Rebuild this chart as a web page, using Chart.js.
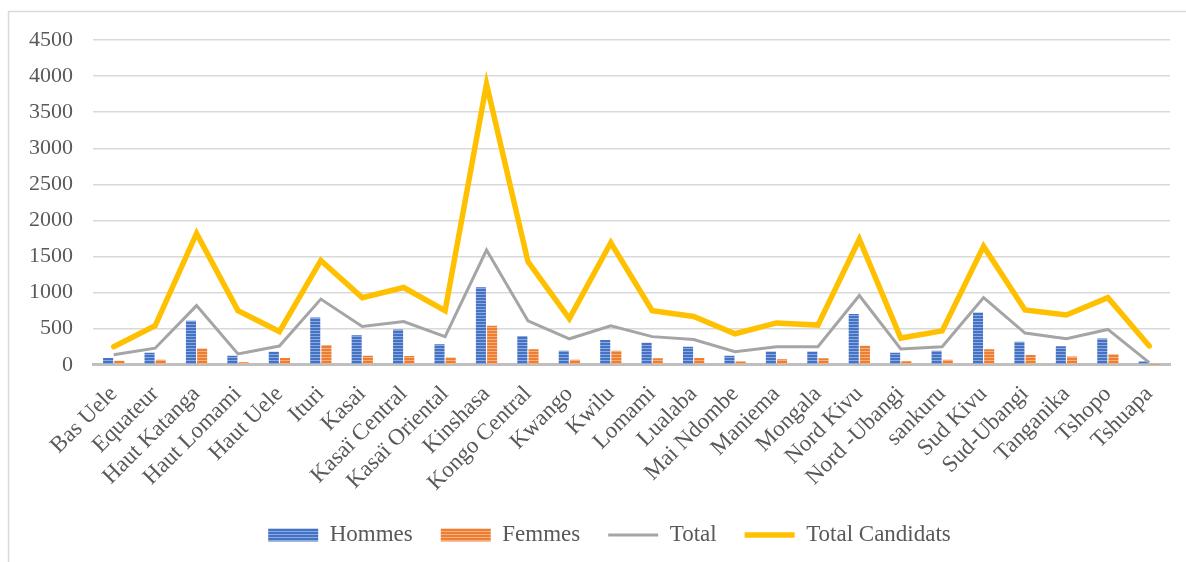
<!DOCTYPE html>
<html>
<head>
<meta charset="utf-8">
<script src="https://cdn.jsdelivr.net/npm/chart.js@4/dist/chart.umd.min.js"></script>
<style>
  html, body {
    margin: 0;
    padding: 0;
    background: #ffffff;
  }

  #wrap {
    width: 1186px;
    height: 562px;
    position: relative;
  }
</style>
</head>
<body>
<div id="wrap">
  <canvas id="candidatsChart"></canvas>
</div>

<script>
// =====================================================
// DATA
// =====================================================

const provinces = [
  "Bas Uele", "Equateur", "Haut Katanga", "Haut Lomami", "Haut Uele",
  "Ituri", "Kasai", "Kasaï Central", "Kasaï Oriental", "Kinshasa",
  "Kongo Central", "Kwango", "Kwilu", "Lomami", "Lualaba",
  "Mai Ndombe", "Maniema", "Mongala", "Nord Kivu", "Nord -Ubangi",
  "sankuru", "Sud Kivu", "Sud-Ubangi", "Tanganika", "Tshopo", "Tshuapa"
];

const hommes = [
  95, 165, 610, 125, 180,
  655, 410, 490, 285, 1075,
  400, 195, 345, 305, 250,
  125, 185, 185, 705, 165,
  195, 725, 320, 255, 365, 45
];

const femmes = [
  55, 70, 225, 35, 95,
  275, 125, 120, 100, 540,
  215, 70, 195, 90, 95,
  45, 75, 90, 265, 50,
  70, 215, 135, 115, 145, 5
];

const totals = [
  140, 230, 820, 150, 260,
  910, 530, 600, 390, 1590,
  610, 360, 540, 390, 350,
  180, 250, 250, 960, 220,
  250, 930, 440, 360, 490, 30
];

const totalCandidats = [
  250, 540, 1820, 750, 460,
  1445, 930, 1070, 750, 3890,
  1430, 640, 1690, 750, 670,
  430, 580, 550, 1740, 370,
  470, 1640, 760, 690, 930, 260
];

const yTicks = [0, 500, 1000, 1500, 2000, 2500, 3000, 3500, 4000, 4500];

// =====================================================
// STYLE
// =====================================================

const FONT = "'Liberation Serif', 'DejaVu Serif', serif";
const TEXT_COLOR = "#595959";

// legend sits closer to the axis labels than chart.js would put it
const LEGEND_SQUEEZE = 17;
const LEGEND_SHIFT_X = 20;

function makeStripes(base, stripe) {

  const c = document.createElement("canvas");
  c.width = 4;
  c.height = 3;

  const ctx = c.getContext("2d");
  ctx.fillStyle = base;
  ctx.fillRect(0, 0, 4, 3);
  ctx.fillStyle = stripe;
  ctx.fillRect(0, 0, 4, 1);

  return ctx.createPattern(c, "repeat");
}

const bluePattern =
  makeStripes("#4472C4", "#8EA9DB");

const orangePattern =
  makeStripes("#ED7D31", "#F4B183");

// frame round the whole chart (left + top only, like the source)
const framePlugin = {

  id: "frame",

  beforeInit(chart) {

    const fit = chart.legend.fit;

    chart.legend.fit = function () {
      fit.call(this);
      this.height -= LEGEND_SQUEEZE;
    };
  },

  afterLayout(chart) {
    chart.legend.top -= LEGEND_SQUEEZE;
    chart.legend.left += LEGEND_SHIFT_X;
    chart.legend.right += LEGEND_SHIFT_X;
  },

  beforeDraw(chart) {

    const ctx = chart.ctx;

    ctx.save();
    ctx.strokeStyle = "#D9D9D9";
    ctx.lineWidth = 1.5;
    ctx.beginPath();
    ctx.moveTo(8.5, chart.height);
    ctx.lineTo(8.5, 11.5);
    ctx.lineTo(chart.width, 11.5);
    ctx.stroke();
    ctx.restore();
  }
};

// =====================================================
// CHART
// =====================================================

const chart = new Chart(
  document.getElementById("candidatsChart"),
  {
    data: {

      labels: provinces,

      datasets: [
        {
          type: "bar",
          label: "Hommes",
          data: hommes,
          backgroundColor: bluePattern,
          categoryPercentage: 0.54,
          barPercentage: 0.9,
          order: 3
        },
        {
          type: "bar",
          label: "Femmes",
          data: femmes,
          backgroundColor: orangePattern,
          categoryPercentage: 0.54,
          barPercentage: 0.9,
          order: 3
        },
        {
          type: "line",
          label: "Total",
          data: totals,
          borderColor: "#A5A5A5",
          backgroundColor: "#A5A5A5",
          borderWidth: 3,
          pointRadius: 0,
          tension: 0,
          borderJoinStyle: "miter",
          order: 2
        },
        {
          type: "line",
          label: "Total Candidats",
          data: totalCandidats,
          borderColor: "#FFC000",
          backgroundColor: "#FFC000",
          borderWidth: 5.5,
          pointRadius: 0,
          tension: 0,
          borderJoinStyle: "miter",
          borderCapStyle: "round",
          order: 1
        }
      ]
    },

    options: {

      responsive: true,

      maintainAspectRatio: false,

      animation: false,

      layout: {
        padding: {
          left: 9,
          right: 16,
          top: 40,
          bottom: 5.5
        }
      },

      scales: {

        x: {

          grid: {
            display: false,
            drawTicks: false
          },

          border: {
            display: true,
            color: "#BFBFBF",
            width: 3
          },

          ticks: {
            color: TEXT_COLOR,
            font: {
              family: FONT,
              size: 23
            },
            maxRotation: 45,
            minRotation: 45,
            autoSkip: false,
            padding: 16
          }
        },

        y: {

          min: 0,

          max: 4500,

          afterBuildTicks(axis) {
            axis.ticks = yTicks.map(v => ({ value: v }));
          },

          grid: {
            color: "#D9D9D9",
            lineWidth: 1.5,
            drawTicks: false
          },

          border: {
            display: false
          },

          ticks: {
            color: TEXT_COLOR,
            font: {
              family: FONT,
              size: 22
            },
            padding: 20,
            callback: value => String(value)
          }
        }
      },

      plugins: {

        tooltip: {
          enabled: false
        },

        legend: {

          position: "bottom",

          labels: {

            color: TEXT_COLOR,

            font: {
              family: FONT,
              size: 23
            },

            usePointStyle: true,

            pointStyleWidth: 50,

            boxHeight: 13,

            padding: 28,

            generateLabels(c) {

              return c.data.datasets.map((ds, i) => ({

                text: ds.label,

                datasetIndex: i,

                fillStyle: ds.backgroundColor,

                strokeStyle: ds.borderColor || ds.backgroundColor,

                lineWidth: ds.type === "line" ? ds.borderWidth : 0,

                pointStyle: ds.type === "line" ? "line" : "rect",

                fontColor: TEXT_COLOR,

                hidden: false
              }));
            }
          }
        }
      }
    },

    plugins: [framePlugin]
  }
);
</script>
</body>
</html>
